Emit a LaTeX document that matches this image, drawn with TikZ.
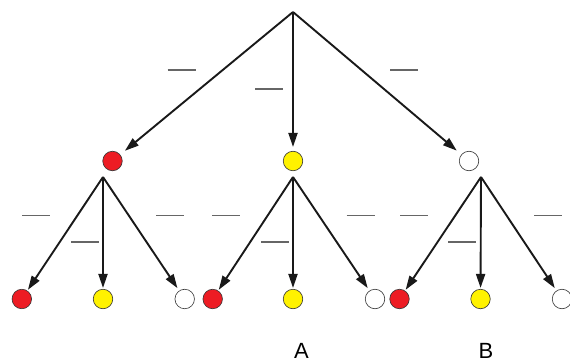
\documentclass[tikz,border=0pt]{standalone}
\usepackage{fontspec}
\setmainfont{Liberation Sans}
\usetikzlibrary{arrows.meta}
\definecolor{cred}{HTML}{ED1C24}
\definecolor{cyel}{HTML}{FFF200}
\begin{document}
\begin{tikzpicture}[x=1pt,y=-1pt,
  ball/.style={circle,draw=black!80,line width=0.6pt,minimum size=19.5pt,inner sep=0pt},
  arr/.style={-{Triangle[length=14pt,width=9pt]},line width=1.9pt,draw=black!90},
  blank/.style={inner sep=0pt,text=black!60},
  lbl/.style={font=\fontsize{22}{22}\selectfont,anchor=base,inner sep=0pt}]
\useasboundingbox (0,0) rectangle (570,361);
% vertices
\coordinate (r) at (293,12);
\coordinate (v1) at (103,177);
\coordinate (v2) at (293,177);
\coordinate (v3) at (481,177);
% level 1
\node[ball,fill=cred] (n1) at (112.5,161) {};
\node[ball,fill=cyel] (n2) at (293,161) {};
\node[ball,fill=white] (n3) at (469,161) {};
% leaves
\node[ball,fill=cred] (l11) at (21.8,299) {};
\node[ball,fill=cyel] (l12) at (103,299) {};
\node[ball,fill=white] (l13) at (184.7,299) {};
\node[ball,fill=cred] (l21) at (212.7,299) {};
\node[ball,fill=cyel] (l22) at (293,299) {};
\node[ball,fill=white] (l23) at (375,299) {};
\node[ball,fill=cred] (l31) at (399.5,299) {};
\node[ball,fill=cyel] (l32) at (480.5,299) {};
\node[ball,fill=white] (l33) at (562,299) {};
% arrows
\draw[arr,shorten >=6pt] (r) -- (n1);
\draw[arr,shorten >=4pt] (r) -- (n2);
\draw[arr,shorten >=6pt] (r) -- (n3);
\foreach \v/\i in {v1/1,v2/2,v3/3}{
  \draw[arr,shorten >=1pt] (\v) -- (l\i1);
  \draw[arr,shorten >=1pt] (\v) -- (l\i2);
  \draw[arr,shorten >=3pt] (\v) -- (l\i3);
}
% blank labels
\node[blank] (b1) at (181.5,70) {\rule{28pt}{1.3pt}};
\node[blank] (b2) at (269,89) {\rule{28pt}{1.3pt}};
\node[blank] (b3) at (404,70) {\rule{28pt}{1.3pt}};
\node[blank] (b11) at (36,215.7) {\rule{28pt}{1.3pt}};
\node[blank] (b12) at (85,242) {\rule{28pt}{1.3pt}};
\node[blank] (b13) at (170,215.7) {\rule{28pt}{1.3pt}};
\node[blank] (b21) at (226,215.7) {\rule{28pt}{1.3pt}};
\node[blank] (b22) at (275,242) {\rule{28pt}{1.3pt}};
\node[blank] (b23) at (360.5,215.7) {\rule{28pt}{1.3pt}};
\node[blank] (b31) at (414,215.7) {\rule{28pt}{1.3pt}};
\node[blank] (b32) at (462,242) {\rule{28pt}{1.3pt}};
\node[blank] (b33) at (548,215.7) {\rule{28pt}{1.3pt}};
% letters
\node[lbl] (A) at (301.5,358) {A};
\node[lbl] (B) at (486,358) {B};
\end{tikzpicture}
\end{document}
